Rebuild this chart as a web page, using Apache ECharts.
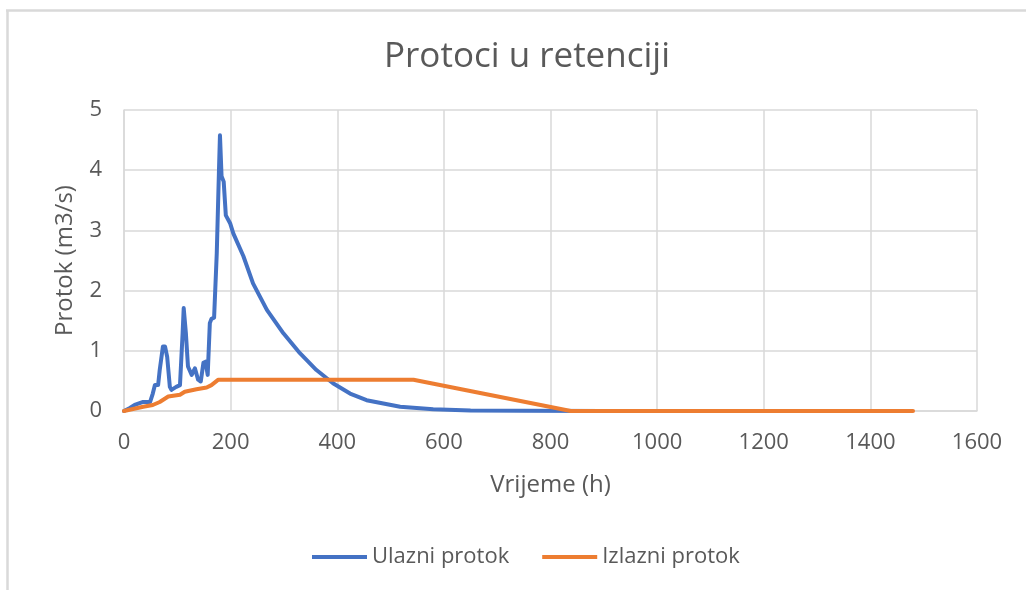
<!DOCTYPE html>
<html>
<head>
<meta charset="utf-8">
<script src="https://cdn.jsdelivr.net/npm/echarts@6/dist/echarts.min.js"></script>
<style>
  html, body { margin: 0; padding: 0; background: #ffffff; }
  #chart { width: 1026px; height: 590px; }
</style>
</head>
<body>
<div id="chart"></div>
<script>
// Inflow hydrograph (Ulazni protok): time in hours, flow in m3/s
const timeIn = [0, 11, 20, 36, 49, 54, 58, 64, 67, 73, 77, 81, 86, 89, 98, 105, 110, 112, 116, 120,
  127, 133, 139, 144, 149, 153, 157, 161, 164, 169, 174, 178, 180, 183, 187, 191, 199, 205, 224, 242,
  255, 268, 299, 330, 361, 392, 424, 455, 518, 580, 650, 750, 900];
const flowIn = [0, 0.05, 0.1, 0.15, 0.15, 0.29, 0.43, 0.43, 0.68, 1.07, 1.07, 0.9, 0.4, 0.35, 0.4, 0.43, 1.3, 1.71, 1.3, 0.74,
  0.6, 0.71, 0.52, 0.49, 0.8, 0.82, 0.6, 1.46, 1.53, 1.55, 2.62, 3.95, 4.58, 3.9, 3.81, 3.25, 3.12, 2.95, 2.57, 2.12,
  1.9, 1.68, 1.29, 0.96, 0.68, 0.46, 0.29, 0.18, 0.07, 0.03, 0.01, 0.003, 0];

// Outflow from the retention (Izlazni protok)
const timeOut = [0, 36, 54, 67, 83, 105, 114, 136, 155, 164, 177, 543, 838, 1480];
const flowOut = [0, 0.07, 0.1, 0.15, 0.24, 0.27, 0.32, 0.36, 0.39, 0.43, 0.52, 0.52, 0, 0];

const xTicks = { min: 0, max: 1600, interval: 200 };
const yTicks = { min: 0, max: 5, interval: 1 };

const seriesNames = ['Ulazni protok', 'Izlazni protok'];
const titleText = 'Protoci u retenciji';
const xName = 'Vrijeme (h)';
const yName = 'Protok (m3/s)';

const pairs = (xs, ys) => xs.map((x, i) => [x, ys[i]]);

const FONT = '"Open Sans", "Noto Sans", sans-serif';
const TEXT = '#595959';
const GRID = '#D9D9D9';

const chart = echarts.init(document.getElementById('chart'), null, { renderer: 'canvas' });

chart.setOption({
  backgroundColor: '#ffffff',
  animation: false,
  title: {
    text: titleText,
    left: 522,
    top: 35,
    textAlign: 'center',
    textStyle: { fontFamily: FONT, fontSize: 35, fontWeight: 'normal', color: TEXT }
  },
  grid: { left: 124, right: 49, top: 110, bottom: 179, containLabel: false },
  legend: {
    left: 307,
    top: 541,
    icon: 'rect',
    itemWidth: 55,
    itemHeight: 4,
    itemGap: 33,
    textStyle: { fontFamily: FONT, fontSize: 22, color: TEXT },
    data: seriesNames
  },
  xAxis: {
    type: 'value',
    min: xTicks.min,
    max: xTicks.max,
    interval: xTicks.interval,
    name: xName,
    nameLocation: 'middle',
    nameGap: 62,
    nameTextStyle: { fontFamily: FONT, fontSize: 24, color: TEXT },
    axisLine: { show: true, lineStyle: { color: GRID, width: 1.5 } },
    axisTick: { show: false },
    axisLabel: { fontFamily: FONT, fontSize: 22, color: TEXT, margin: 21, formatter: v => String(v) },
    splitLine: { show: true, lineStyle: { color: GRID, width: 1.5 } }
  },
  yAxis: {
    type: 'value',
    min: yTicks.min,
    max: yTicks.max,
    interval: yTicks.interval,
    name: yName,
    nameLocation: 'middle',
    nameGap: 47,
    nameRotate: 90,
    nameTextStyle: { fontFamily: FONT, fontSize: 24, color: TEXT },
    axisLine: { show: true, lineStyle: { color: GRID, width: 1.5 } },
    axisTick: { show: false },
    axisLabel: { fontFamily: FONT, fontSize: 22, color: TEXT, margin: 22, formatter: v => String(v) },
    splitLine: { show: true, lineStyle: { color: GRID, width: 1.5 } }
  },
  series: [
    {
      name: seriesNames[0],
      type: 'line',
      data: pairs(timeIn, flowIn),
      symbol: 'none',
      smooth: false,
      lineStyle: { color: '#4472C4', width: 4, join: 'round', cap: 'round' },
      itemStyle: { color: '#4472C4' },
      z: 2
    },
    {
      name: seriesNames[1],
      type: 'line',
      data: pairs(timeOut, flowOut),
      symbol: 'none',
      smooth: false,
      lineStyle: { color: '#ED7D31', width: 4, join: 'round', cap: 'round' },
      itemStyle: { color: '#ED7D31' },
      z: 3
    }
  ],
  graphic: [
    // chart-area frame (top and left edges)
    { type: 'line', shape: { x1: 6, y1: 10.5, x2: 1026, y2: 10.5 }, style: { stroke: GRID, lineWidth: 2.5 }, silent: true },
    { type: 'line', shape: { x1: 7.5, y1: 10, x2: 7.5, y2: 590 }, style: { stroke: GRID, lineWidth: 2.5 }, silent: true }
  ]
});
</script>
</body>
</html>
